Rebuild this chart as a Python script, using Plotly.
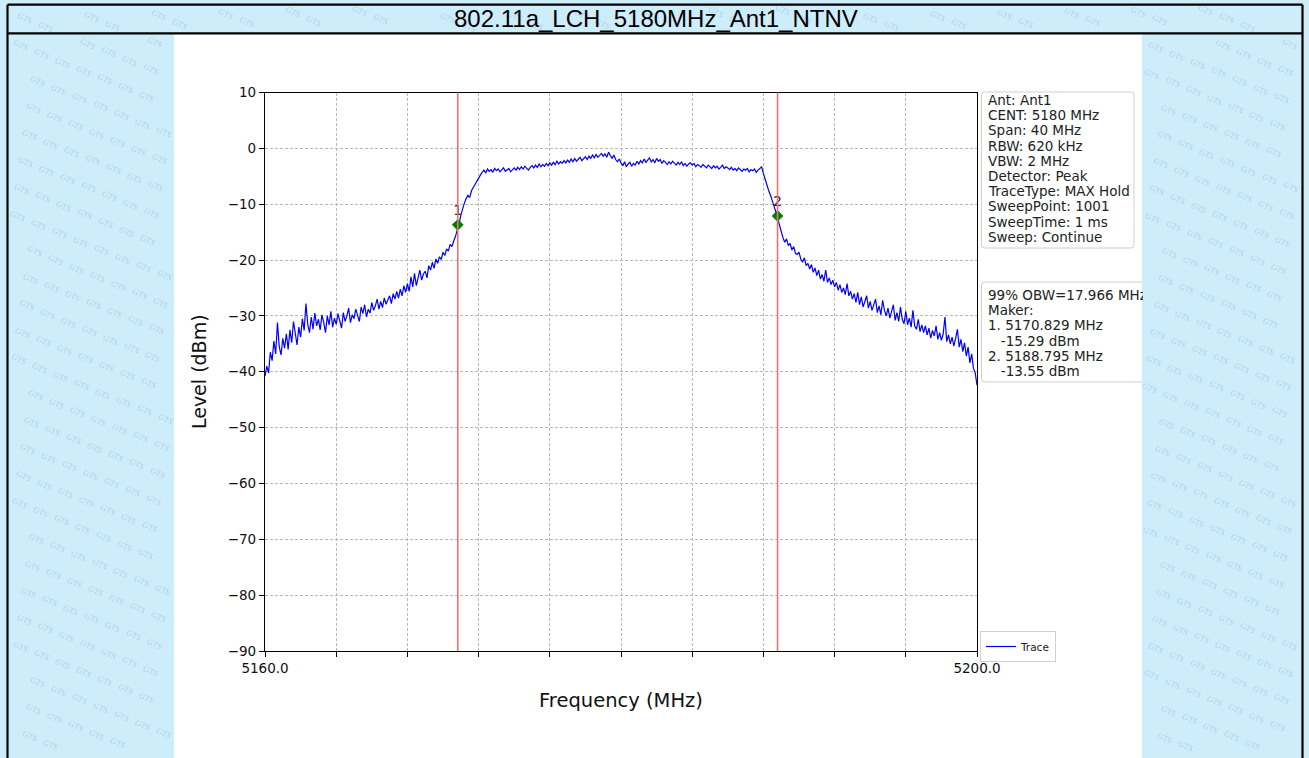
import plotly.graph_objects as go

# ---------------- data ----------------
TITLE = "802.11a_LCH_5180MHz_Ant1_NTNV"
FREQ_START = 5160.0
FREQ_STEP = 0.1
LEVELS = [
    # 5160 - 5172.9
    -40.8, -39.0, -40.2, -36.5, -38.0, -34.5, -36.8, -31.2, -35.5, -37.0,
    -34.0, -35.8, -33.2, -36.0, -32.5, -34.8, -31.0, -33.5, -35.2, -32.0,
    -33.8, -30.5, -32.6, -27.8, -31.5, -33.0, -30.2, -32.4, -29.5, -31.8,
    -30.6, -32.5, -29.8, -31.2, -33.0, -30.0, -31.6, -29.2, -32.0, -30.4,
    -31.5, -29.6, -30.8, -32.2, -29.4, -31.0, -30.0, -28.6, -31.2, -29.8,
    -30.5, -28.8, -29.9, -31.0, -28.4, -29.6, -28.0, -30.2, -28.8, -29.5,
    -27.6, -29.0, -28.2, -27.0, -28.8, -27.4, -28.5, -26.8, -27.9, -27.2,
    -26.4, -27.8, -26.0, -27.0, -25.6, -26.8, -25.2, -26.4, -24.6, -25.8,
    -24.2, -25.6, -23.0, -24.8, -22.4, -24.6, -23.4, -21.8, -23.6, -22.5,
    -22.0, -23.2, -21.0, -21.8, -20.4, -21.5, -19.8, -20.6, -19.4, -19.9,
    -18.6, -19.2, -18.0, -18.4, -17.2, -17.6, -16.6, -15.8, -14.6, -13.6,
    -12.0, -10.6, -9.8, -9.0, -8.4, -8.8, -7.6, -7.0, -6.4, -6.0,
    -5.4, -4.8, -4.3, -3.9, -4.4, -3.7, -4.1, -3.8, -4.3, -3.6,
    # 5173 - 5187.9
    -4.0, -3.7, -4.2, -3.8, -3.5, -4.1, -3.9, -3.6, -4.2, -3.8,
    -3.5, -3.9, -3.4, -3.8, -3.3, -3.7, -3.2, -3.6, -3.9, -3.4,
    -3.1, -3.5, -3.0, -3.4, -2.8, -3.3, -2.9, -3.2, -2.7, -3.1,
    -2.6, -3.0, -2.5, -2.9, -2.3, -2.8, -2.4, -2.7, -2.2, -2.6,
    -2.1, -2.5, -1.9, -2.4, -1.8, -2.3, -2.0, -1.6, -2.2, -1.9,
    -1.5, -2.0, -1.4, -1.8, -1.2, -1.7, -1.1, -1.6, -1.3, -0.9,
    -1.4, -1.0, -1.6, -0.7, -1.3, -1.8, -1.2, -2.0, -2.4, -1.9,
    -2.6, -3.1, -2.4, -3.3, -2.8, -2.5, -3.2, -2.7, -3.0, -2.3,
    -2.8, -2.2, -2.6, -1.9, -2.5, -2.1, -1.7, -2.4, -2.0, -2.6,
    -1.8, -2.3, -2.0, -2.7, -2.2, -2.5, -2.9, -2.4, -2.8, -2.3,
    -2.6, -3.0, -2.5, -2.9, -2.4, -3.1, -2.7, -3.2, -2.8, -2.6,
    -3.0, -2.7, -3.3, -2.9, -3.1, -3.4, -2.9, -3.2, -3.5, -3.0,
    -3.3, -3.6, -3.1, -3.5, -3.2, -3.7, -3.4, -3.0, -3.6, -3.3,
    -3.5, -3.8, -3.4, -3.9, -3.6, -4.0, -3.5, -3.8, -4.1, -3.7,
    -3.9, -3.6, -4.2, -3.8, -4.0, -3.7, -4.3, -3.9, -3.5, -3.3,
    # 5188 - 5200
    -4.5, -5.6, -6.8, -7.6, -8.4, -9.6, -10.4, -11.4, -12.6, -13.8,
    -15.2, -16.0, -16.8, -16.2, -17.4, -17.0, -18.2, -17.6, -18.8, -19.0,
    -18.6, -19.8, -20.4, -19.6, -21.0, -20.6, -21.6, -20.8, -22.2, -21.4,
    -22.8, -21.8, -23.4, -22.6, -23.8, -21.8, -24.0, -23.2, -24.4, -23.6,
    -24.8, -24.0, -25.4, -24.4, -25.8, -25.0, -26.2, -24.2, -26.4, -25.6,
    -27.0, -26.0, -27.6, -25.8, -28.0, -26.6, -28.4, -27.2, -26.4, -28.6,
    -27.4, -29.0, -28.0, -27.0, -29.4, -28.2, -29.8, -27.2, -29.0, -30.0,
    -28.6, -30.4, -29.2, -28.0, -30.8, -29.4, -31.0, -28.4, -30.6, -31.4,
    -29.2, -31.6, -30.4, -32.0, -29.0, -31.8, -32.4, -30.6, -32.8, -31.6,
    -33.0, -31.8, -33.4, -32.2, -34.0, -32.6, -33.6, -31.8, -34.2, -33.0,
    -34.4, -33.2, -30.2, -34.6, -33.4, -35.0, -33.8, -35.4, -34.0, -32.4,
    -35.6, -34.2, -36.4, -34.8, -37.2, -35.6, -38.4, -36.8, -39.4, -40.2,
    -42.4,
]
FREQS = [round(FREQ_START + FREQ_STEP * i, 3) for i in range(len(LEVELS))]

MARKER_FREQS = [5170.829, 5188.795]
MARKER_LEVELS = [-13.7, -12.1]
MARKER_LABELS = ["1", "2"]

X_TICKS = [5160, 5164, 5168, 5172, 5176, 5180, 5184, 5188, 5192, 5196, 5200]
X_TICKTEXT = ["5160.0", "", "", "", "", "", "", "", "", "", "5200.0"]
Y_TICKS = [10, 0, -10, -20, -30, -40, -50, -60, -70, -80, -90]

INFO_LINES = ["Ant: Ant1", "CENT: 5180 MHz", "Span: 40 MHz", "RBW: 620 kHz",
              "VBW: 2 MHz", "Detector: Peak", "TraceType: MAX Hold",
              "SweepPoint: 1001", "SweepTime: 1 ms", "Sweep: Continue"]
OBW_LINES = ["99% OBW=17.966 MHz", "Maker:", "1. 5170.829 MHz",
             "\u00a0\u00a0\u00a0-15.29 dBm", "2. 5188.795 MHz",
             "\u00a0\u00a0\u00a0-13.55 dBm"]

# ---------------- layout helpers ----------------
W, H = 1309, 758
def px(x):
    return x / W
def py(y):
    return 1 - y / H

PL, PR, PT, PB = 265, 977, 92.5, 651
BG = "#cdedfb"
FONT = "DejaVu Sans"

fig = go.Figure()
fig.add_trace(go.Scatter(x=FREQS, y=LEVELS, mode="lines", name="Trace",
                         line=dict(color="#0000ff", width=1.2)))
fig.add_trace(go.Scatter(x=MARKER_FREQS, y=MARKER_LEVELS, mode="markers+text",
                         text=MARKER_LABELS, textposition="top center",
                         textfont=dict(family=FONT, size=14, color="#222222"),
                         marker=dict(symbol="diamond", size=9, color="#008000"),
                         showlegend=False, cliponaxis=False))

shapes = []
shapes.append(dict(type="rect", xref="paper", yref="paper", x0=px(174), x1=px(1142),
                   y0=0, y1=py(34), fillcolor="white", line=dict(width=0), layer="below"))
blk = dict(color="black", width=2.2)
shapes.append(dict(type="line", xref="paper", yref="paper", x0=px(7.5), x1=px(1302.5),
                   y0=py(4.7), y1=py(4.7), line=blk))
shapes.append(dict(type="line", xref="paper", yref="paper", x0=px(7.5), x1=px(1302.5),
                   y0=py(33.3), y1=py(33.3), line=blk))
shapes.append(dict(type="line", xref="paper", yref="paper", x0=px(7.5), x1=px(7.5),
                   y0=0, y1=py(4.7), line=blk))
shapes.append(dict(type="line", xref="paper", yref="paper", x0=px(1302.5), x1=px(1302.5),
                   y0=0, y1=py(4.7), line=blk))
for f in MARKER_FREQS:
    shapes.append(dict(type="line", xref="x", yref="y domain", x0=f, x1=f, y0=0, y1=1,
                       line=dict(color="#f07070", width=1.6), layer="above"))

def rbox(x0, y0, x1, y1, r=3, open_right=False):
    X = lambda v: f"{px(v):.6f}"
    Y = lambda v: f"{py(v):.6f}"
    if open_right:
        d = (f"M {X(x1)},{Y(y0)} L {X(x0 + r)},{Y(y0)} Q {X(x0)},{Y(y0)} {X(x0)},{Y(y0 + r)} "
             f"L {X(x0)},{Y(y1 - r)} Q {X(x0)},{Y(y1)} {X(x0 + r)},{Y(y1)} L {X(x1)},{Y(y1)}")
        return dict(type="path", xref="paper", yref="paper", path=d,
                    line=dict(color="#cfcfcf", width=1))
    d = (f"M {X(x0 + r)},{Y(y0)} L {X(x1 - r)},{Y(y0)} Q {X(x1)},{Y(y0)} {X(x1)},{Y(y0 + r)} "
         f"L {X(x1)},{Y(y1 - r)} Q {X(x1)},{Y(y1)} {X(x1 - r)},{Y(y1)} "
         f"L {X(x0 + r)},{Y(y1)} Q {X(x0)},{Y(y1)} {X(x0)},{Y(y1 - r)} "
         f"L {X(x0)},{Y(y0 + r)} Q {X(x0)},{Y(y0)} {X(x0 + r)},{Y(y0)} Z")
    return dict(type="path", xref="paper", yref="paper", path=d, fillcolor="white",
                line=dict(color="#cfcfcf", width=1))

shapes.append(rbox(981.5, 92, 1134, 248))
shapes.append(dict(type="rect", xref="paper", yref="paper", x0=px(981.5), x1=px(1142),
                   y0=py(382), y1=py(282), fillcolor="white", line=dict(width=0)))
shapes.append(rbox(981.5, 282, 1142, 382, open_right=True))

annotations = []
wm_font = dict(family="Liberation Serif", size=8.5, color="rgba(100,140,185,0.32)", style="italic")
for r in range(-60, 60):
    for c in range(-10, 75):
        x = 4 + c * 21 - r * 4
        y = 10 + c * 8.5 + r * 27
        if x < 18 or x > W - 18 or y < 6 or y > H - 10:
            continue
        inside_white = (166 < x < 1150) and (y > 27)
        on_line = abs(y - 33) < 6 or abs(y - 5) < 5
        if inside_white or on_line:
            continue
        annotations.append(dict(x=px(x), y=py(y), xref="paper", yref="paper", text="GTS",
                                xanchor="center", yanchor="middle",
                                showarrow=False, textangle=24, font=wm_font))
annotations.append(dict(x=px(656), y=py(19), xref="paper", yref="paper", text=TITLE,
                        xanchor="center", yanchor="middle",
                        showarrow=False, font=dict(family="Liberation Sans", size=24, color="black")))
for i, t in enumerate(INFO_LINES):
    annotations.append(dict(x=px(986), y=py(100 + 15.2 * i), xref="paper", yref="paper",
                            text=t, showarrow=False, xanchor="left", yanchor="middle",
                            font=dict(family=FONT, size=13.5, color="#222222")))
for i, t in enumerate(OBW_LINES):
    annotations.append(dict(x=px(986.5), y=py(295 + 15.2 * i), xref="paper", yref="paper",
                            text=t, showarrow=False, xanchor="left", yanchor="middle",
                            width=155, align="left", borderpad=0,
                            font=dict(family=FONT, size=13.5, color="#222222")))

axis_common = dict(showline=True, linecolor="black", linewidth=1.3, mirror=True,
                   ticks="outside", ticklen=5, tickcolor="black", tickwidth=1,
                   showgrid=True, gridcolor="#b8b8b8", gridwidth=0.8, griddash="3px,2px",
                   zeroline=False, tickfont=dict(family=FONT, size=13.5, color="#111111"))

fig.update_layout(
    width=W, height=H, margin=dict(l=0, r=0, t=0, b=0, autoexpand=False),
    paper_bgcolor=BG, plot_bgcolor="white",
    xaxis=dict(domain=[px(PL), px(PR)], range=[5160, 5200], tickvals=X_TICKS,
               ticktext=X_TICKTEXT, automargin=False,
               title=dict(text="Frequency (MHz)", standoff=18,
                          font=dict(family=FONT, size=19.5, color="#111111")),
               **axis_common),
    yaxis=dict(domain=[py(PB), py(PT)], range=[-90, 10], tickvals=Y_TICKS,
               automargin=False,
               title=dict(text="Level (dBm)", standoff=16,
                          font=dict(family=FONT, size=19, color="#111111")),
               **axis_common),
    showlegend=True,
    legend=dict(x=px(980), y=py(631), xanchor="left", yanchor="top", bgcolor="white",
                bordercolor="#d0d0d0", borderwidth=1, itemwidth=30,
                font=dict(family=FONT, size=10.5, color="#222222")),
    shapes=shapes, annotations=annotations,
)

fig.write_html("out.html", config={"displayModeBar": False},
               post_script="document.body.style.margin='0';document.body.style.overflow='hidden';"
                           "document.body.style.background='%s';" % BG)
